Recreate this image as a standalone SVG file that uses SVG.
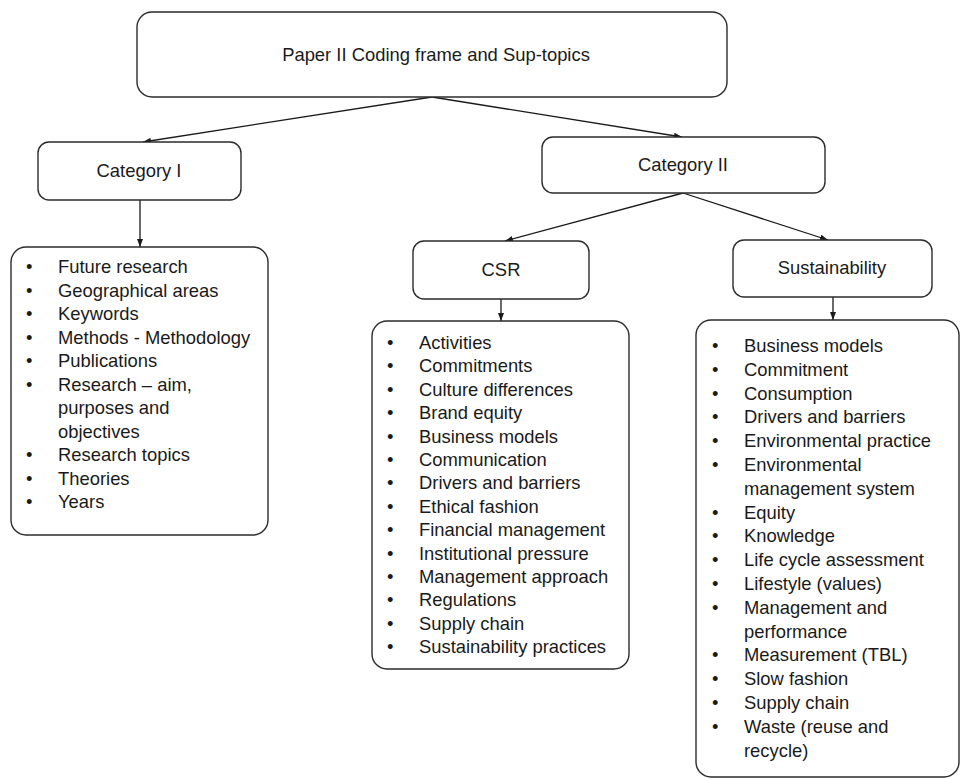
<svg xmlns="http://www.w3.org/2000/svg" width="961" height="779" viewBox="0 0 961 779">
  <style>
    .box { fill: #ffffff; stroke: #2b2b2b; stroke-width: 1.4; }
    .lbl { font-family: "Liberation Sans", Arial, sans-serif; font-size: 18.4px; fill: #1a1a1a; }
    .mid { text-anchor: middle; }
    .edge { fill: none; stroke: #1a1a1a; stroke-width: 1.3; }
  </style>
  <defs>
    <marker id="arrow" viewBox="0 0 8 6" refX="8" refY="3" markerWidth="8" markerHeight="6" markerUnits="userSpaceOnUse" orient="auto">
      <path d="M0,0 L8,3 L0,6 z" fill="#1a1a1a"/>
    </marker>
  </defs>
  <rect width="961" height="779" fill="#ffffff"/>

  <!-- connectors -->
  <g id="connectors">
    <line class="edge" x1="432" y1="97" x2="143" y2="142" marker-end="url(#arrow)"/>
    <line class="edge" x1="432" y1="97" x2="682" y2="137" marker-end="url(#arrow)"/>
    <line class="edge" x1="140" y1="200" x2="140" y2="247" marker-end="url(#arrow)"/>
    <line class="edge" x1="683" y1="193" x2="505" y2="241" marker-end="url(#arrow)"/>
    <line class="edge" x1="683" y1="193" x2="828" y2="240" marker-end="url(#arrow)"/>
    <line class="edge" x1="501" y1="299" x2="501" y2="321" marker-end="url(#arrow)"/>
    <line class="edge" x1="833" y1="297" x2="833" y2="320" marker-end="url(#arrow)"/>
  </g>

  <!-- root -->
  <g id="root">
    <rect class="box" x="137" y="12" width="590" height="85" rx="15"/>
    <text class="lbl mid" x="436" y="61">Paper II Coding frame and Sup-topics</text>
  </g>

  <!-- first category -->
  <g id="category-1">
    <rect class="box" x="38" y="142" width="203" height="58" rx="11"/>
    <text class="lbl mid" x="139" y="177">Category I</text>
  </g>

  <!-- second category -->
  <g id="category-2">
    <rect class="box" x="542" y="137" width="283" height="56" rx="11"/>
    <text class="lbl mid" x="683" y="171">Category II</text>
  </g>

  <g id="csr">
    <rect class="box" x="413" y="241" width="176" height="58" rx="11"/>
    <text class="lbl mid" x="501" y="276">CSR</text>
  </g>

  <g id="sustainability">
    <rect class="box" x="733" y="240" width="199" height="57" rx="11"/>
    <text class="lbl mid" x="832" y="274">Sustainability</text>
  </g>

  <!-- list under category I -->
  <g id="list-category-1">
    <rect class="box" x="11" y="247" width="257" height="288" rx="15"/>
    <g class="lbl">
      <text x="26" y="273">•</text><text x="58" y="273">Future research</text>
      <text x="26" y="296.5">•</text><text x="58" y="296.5">Geographical areas</text>
      <text x="26" y="320">•</text><text x="58" y="320">Keywords</text>
      <text x="26" y="343.5">•</text><text x="58" y="343.5">Methods - Methodology</text>
      <text x="26" y="367">•</text><text x="58" y="367">Publications</text>
      <text x="26" y="390.5">•</text><text x="58" y="390.5">Research – aim,</text>
      <text x="58" y="414">purposes and</text>
      <text x="58" y="437.5">objectives</text>
      <text x="26" y="461">•</text><text x="58" y="461">Research topics</text>
      <text x="26" y="484.5">•</text><text x="58" y="484.5">Theories</text>
      <text x="26" y="508">•</text><text x="58" y="508">Years</text>
    </g>
  </g>

  <!-- list under CSR -->
  <g id="list-csr">
    <rect class="box" x="372" y="321" width="257" height="348" rx="15"/>
    <g class="lbl">
      <text x="387" y="349">•</text><text x="419" y="349">Activities</text>
      <text x="387" y="372.4">•</text><text x="419" y="372.4">Commitments</text>
      <text x="387" y="395.8">•</text><text x="419" y="395.8">Culture differences</text>
      <text x="387" y="419.2">•</text><text x="419" y="419.2">Brand equity</text>
      <text x="387" y="442.6">•</text><text x="419" y="442.6">Business models</text>
      <text x="387" y="466">•</text><text x="419" y="466">Communication</text>
      <text x="387" y="489.4">•</text><text x="419" y="489.4">Drivers and barriers</text>
      <text x="387" y="512.8">•</text><text x="419" y="512.8">Ethical fashion</text>
      <text x="387" y="536.2">•</text><text x="419" y="536.2">Financial management</text>
      <text x="387" y="559.6">•</text><text x="419" y="559.6">Institutional pressure</text>
      <text x="387" y="583">•</text><text x="419" y="583">Management approach</text>
      <text x="387" y="606.4">•</text><text x="419" y="606.4">Regulations</text>
      <text x="387" y="629.8">•</text><text x="419" y="629.8">Supply chain</text>
      <text x="387" y="653.2">•</text><text x="419" y="653.2">Sustainability practices</text>
    </g>
  </g>

  <!-- list under Sustainability -->
  <g id="list-sustainability">
    <rect class="box" x="696" y="320" width="263" height="457" rx="15"/>
    <g class="lbl">
      <text x="712" y="352">•</text><text x="744" y="352">Business models</text>
      <text x="712" y="375.8">•</text><text x="744" y="375.8">Commitment</text>
      <text x="712" y="399.6">•</text><text x="744" y="399.6">Consumption</text>
      <text x="712" y="423.4">•</text><text x="744" y="423.4">Drivers and barriers</text>
      <text x="712" y="447.2">•</text><text x="744" y="447.2">Environmental practice</text>
      <text x="712" y="471">•</text><text x="744" y="471">Environmental</text>
      <text x="744" y="494.8">management system</text>
      <text x="712" y="518.6">•</text><text x="744" y="518.6">Equity</text>
      <text x="712" y="542.4">•</text><text x="744" y="542.4">Knowledge</text>
      <text x="712" y="566.2">•</text><text x="744" y="566.2">Life cycle assessment</text>
      <text x="712" y="590">•</text><text x="744" y="590">Lifestyle (values)</text>
      <text x="712" y="613.8">•</text><text x="744" y="613.8">Management and</text>
      <text x="744" y="637.6">performance</text>
      <text x="712" y="661.4">•</text><text x="744" y="661.4">Measurement (TBL)</text>
      <text x="712" y="685.2">•</text><text x="744" y="685.2">Slow fashion</text>
      <text x="712" y="709">•</text><text x="744" y="709">Supply chain</text>
      <text x="712" y="732.8">•</text><text x="744" y="732.8">Waste (reuse and</text>
      <text x="744" y="756.6">recycle)</text>
    </g>
  </g>
</svg>
